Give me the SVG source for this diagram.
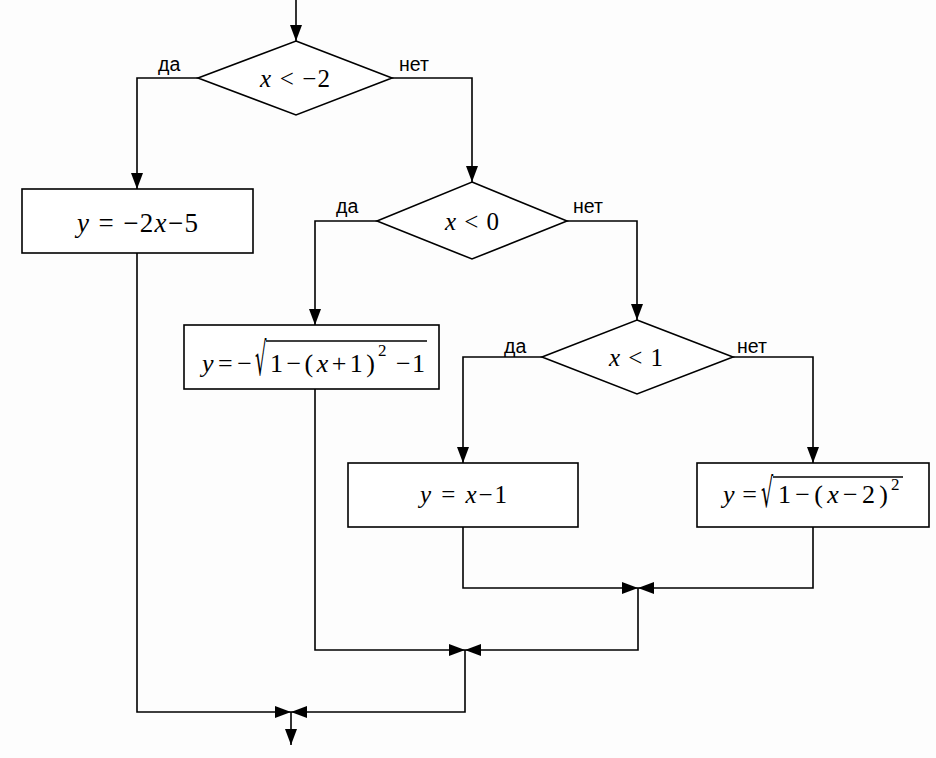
<svg xmlns="http://www.w3.org/2000/svg" width="936" height="758" viewBox="0 0 936 758">
<defs>
<marker id="ah" markerUnits="userSpaceOnUse" markerWidth="16" markerHeight="12" refX="16" refY="6" orient="auto">
<path d="M0,0 L16,6 L0,12 z" fill="#000"/>
</marker>
<style>
.sh{fill:#fff;stroke:#000;stroke-width:1.6}
.ln{fill:none;stroke:#000;stroke-width:1.6;marker-end:url(#ah)}
.m{font-family:"Liberation Serif","Times New Roman",serif;font-size:25px;fill:#000}
.b{font-family:"Liberation Serif","Times New Roman",serif;font-size:27px;fill:#000}
.s{font-family:"Liberation Serif","Times New Roman",serif;font-size:26px;fill:#000}
.sup{font-family:"Liberation Serif","Times New Roman",serif;font-size:17px;fill:#000}
.i{font-style:italic}
.lb{font-family:"Liberation Sans",Arial,sans-serif;font-size:19.5px;fill:#000}
.rad{font-family:"DejaVu Serif","Liberation Serif",serif;font-size:24px;fill:#000}
.vin{stroke:#000;stroke-width:1.4}
</style>
</defs>
<rect width="936" height="758" fill="#fdfdfd"/>
<g id="connectors">
<path class="ln" d="M296,0 V41"/>
<path class="ln" d="M198,78 H137 V189"/>
<path class="ln" d="M392,78 H472 V182"/>
<path class="ln" d="M377,221 H315 V325"/>
<path class="ln" d="M567,221 H637 V320"/>
<path class="ln" d="M542,357 H463 V463"/>
<path class="ln" d="M733,357 H813 V463"/>
<path class="ln" d="M463,527 V588 H638"/>
<path class="ln" d="M813,527 V588 H638"/>
<path class="ln" d="M638,588 V650 H465"/>
<path class="ln" d="M315,389 V650 H465"/>
<path class="ln" d="M465,650 V712 H291"/>
<path class="ln" d="M137,253 V712 H291"/>
<path class="ln" d="M291,712 V745"/>
</g>
<g id="labels">
<text class="lb" x="158" y="71">да</text>
<text class="lb" x="399" y="71">нет</text>
<text class="lb" x="336" y="213">да</text>
<text class="lb" x="573" y="213">нет</text>
<text class="lb" x="504" y="353">да</text>
<text class="lb" x="737" y="353">нет</text>
</g>
<g id="d1">
<polygon class="sh" points="296,41 392,78 296,115 198,78"/>
<text class="m" x="260" y="87" textLength="70" lengthAdjust="spacing"><tspan class="i">x</tspan> &lt; −2</text>
</g>
<g id="b1">
<rect class="sh" x="22" y="189" width="231" height="64"/>
<text class="b" x="77" y="232" textLength="121" lengthAdjust="spacing"><tspan class="i">y</tspan> = −2<tspan class="i">x</tspan>−5</text>
</g>
<g id="d2">
<polygon class="sh" points="472,182 567,221 472,259 377,221"/>
<text class="m" x="445" y="230" textLength="54" lengthAdjust="spacing"><tspan class="i">x</tspan> &lt; 0</text>
</g>
<g id="b2">
<rect class="sh" x="184" y="325" width="255" height="64"/>
<text class="s" x="202" y="372" textLength="50" lengthAdjust="spacing"><tspan class="i">y</tspan>=−</text>
<text class="rad" transform="translate(255,375) scale(0.75,1.9)">√</text>
<line class="vin" x1="266" y1="341" x2="427" y2="341"/>
<text class="s" x="270" y="372" textLength="105" lengthAdjust="spacing">1−(<tspan class="i">x</tspan>+1)</text>
<text class="sup" x="378" y="356">2</text>
<text class="s" x="396" y="372" textLength="29" lengthAdjust="spacing">−1</text>
</g>
<g id="d3">
<polygon class="sh" points="637,320 733,357 637,394 542,357"/>
<text class="m" x="609" y="366" textLength="54" lengthAdjust="spacing"><tspan class="i">x</tspan> &lt; 1</text>
</g>
<g id="b3">
<rect class="sh" x="348" y="463" width="230" height="64"/>
<text class="m" x="420" y="503" textLength="87" lengthAdjust="spacing"><tspan class="i">y</tspan> = <tspan class="i">x</tspan>−1</text>
</g>
<g id="b4">
<rect class="sh" x="697" y="463" width="232" height="64"/>
<text class="s" x="723" y="503" textLength="34" lengthAdjust="spacing"><tspan class="i">y</tspan>=</text>
<text class="rad" transform="translate(761,507) scale(0.8,1.7)">√</text>
<line class="vin" x1="773" y1="477" x2="903" y2="477"/>
<text class="s" x="778" y="503" textLength="110" lengthAdjust="spacing">1−(<tspan class="i">x</tspan>−2)</text>
<text class="sup" x="891" y="490">2</text>
</g>
</svg>
